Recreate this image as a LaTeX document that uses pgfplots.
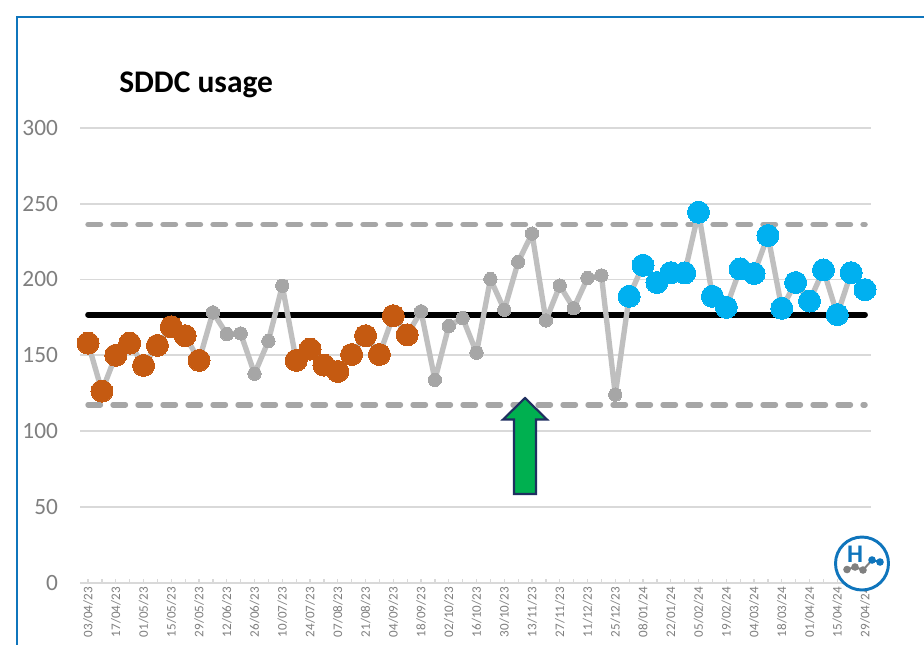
\documentclass[border=0pt]{standalone}
\usepackage{pgfplots}
\pgfplotsset{compat=1.18}
\usepackage{pgfplotstable}
\usepackage{fontspec}
\setmainfont{Carlito}
\definecolor{gridc}{HTML}{D9D9D9}
\definecolor{linec}{HTML}{BFBFBF}
\definecolor{dotc}{HTML}{A6A6A6}
\definecolor{orangec}{HTML}{C55A11}
\definecolor{bluec}{HTML}{00B0F0}
\definecolor{framec}{HTML}{0F75BC}
\definecolor{tickc}{HTML}{7F7F7F}
\pgfplotstableread{
i v
0 158
1 126.3
2 150
3 158
4 143.3
5 156.5
6 168.8
7 162.9
8 146.6
9 178.3
10 164
11 164.4
12 137.8
13 159.4
14 195.9
15 146.6
16 154.1
17 143.5
18 139.3
19 150.5
20 162.9
21 150.5
22 176.1
23 163.5
24 179
25 133.8
26 169.3
27 174.5
28 151.7
29 200.3
30 180
31 211.6
32 230.3
33 173
34 196
35 181
36 201
37 202.7
38 124
39 188.9
40 209.4
41 198
42 204.5
43 204.3
44 244.4
45 188.9
46 181.6
47 207
48 203.9
49 229
50 181
51 198
52 185.8
53 206.3
54 176.8
55 204.5
56 193.3
}\usage
\begin{document}
\begin{tikzpicture}[x=0.75pt,y=-0.75pt]
\useasboundingbox (0,0) rectangle (924,644);
\clip (0,0) rectangle (924,644);
\fill[white] (0,0) rectangle (924,644);
\draw[framec,line width=2.2pt] (17,660) -- (17,17) -- (940,17);
\node[anchor=base west,inner sep=0pt,font=\bfseries\fontsize{23.6}{26}\selectfont] at (119,92) {SDDC usage};
\begin{axis}[
  at={(80pt*0.75,-582.5pt*0.75)}, anchor=south west,
  scale only axis, width=593.25pt, height=340.9pt,
  xmin=-0.58, xmax=56.43, ymin=0, ymax=300,
  axis x line*=bottom, axis y line*=left,
  axis line style={gridc,line width=1.5pt,-},
  y axis line style={draw=none},
  ytick={0,50,...,300},
  ymajorgrids, grid style={gridc,line width=1.4pt},
  major tick length=0pt,
  yticklabel style={font=\fontsize{17.5}{20}\selectfont,text=tickc,xshift=-13pt},
  /pgf/number format/assume math mode=true,
  xtick={0,2,...,56},
  minor xtick={0,1,...,56},
  xticklabels={03/04/23,17/04/23,01/05/23,15/05/23,29/05/23,12/06/23,26/06/23,10/07/23,24/07/23,07/08/23,21/08/23,04/09/23,18/09/23,02/10/23,16/10/23,30/10/23,13/11/23,27/11/23,11/12/23,25/12/23,08/01/24,22/01/24,05/02/24,19/02/24,04/03/24,18/03/24,01/04/24,15/04/24,29/04/24},
  xticklabel style={rotate=90,anchor=east,font=\fontsize{9.8}{11}\selectfont,text=tickc},
  minor tick length=2.5pt,
  minor tick style={gridc,line width=0.9pt},
  clip=false,
  axis on top=false,
]
\addplot[black,line width=4.3pt,line cap=round] coordinates {(0,176.8) (56,176.8)};
\addplot[dotc,line width=4.1pt,line cap=round,dash pattern=on 9.3pt off 9.45pt] coordinates {(0,236.2) (56,236.2)};
\addplot[dotc,line width=4.1pt,line cap=round,dash pattern=on 9.3pt off 9.45pt] coordinates {(0,117.3) (56,117.3)};
\addplot[linec,line width=4pt,line join=round,mark=*,mark size=5pt,mark options={fill=dotc,draw=dotc,line width=0pt,solid}] table[x=i,y=v] {\usage};
\addplot[only marks,mark=*,mark size=8.25pt,mark options={fill=orangec,draw=orangec,line width=0pt}] table[x=i,y=v,restrict expr to domain={\thisrow{i}}{0:8}] {\usage};
\addplot[only marks,mark=*,mark size=8.25pt,mark options={fill=orangec,draw=orangec,line width=0pt}] table[x=i,y=v,restrict expr to domain={\thisrow{i}}{15:23}] {\usage};
\addplot[only marks,mark=*,mark size=8.25pt,mark options={fill=bluec,draw=bluec,line width=0pt}] table[x=i,y=v,restrict expr to domain={\thisrow{i}}{39:56}] {\usage};
\end{axis}
% arrow annotation
\draw[fill={rgb,255:red,0;green,176;blue,80},draw={rgb,255:red,31;green,47;blue,96},line width=1.6pt,line join=miter]
  (525,398) -- (547,419.5) -- (536,419.5) -- (536,494) -- (514,494) -- (514,419.5) -- (503,419.5) -- cycle;
% logo
\fill[white] (862,563.5) circle (27);
\draw[framec,line width=2.2pt] (862,563.5) circle (26.5);
\node[font=\bfseries\fontsize{19}{20}\selectfont,text=framec,inner sep=0pt] at (855,554) {H};
\draw[gray,line width=1.5pt] (847,569.5) -- (855,567) -- (863,570) -- (872,560);
\draw[framec,line width=1.5pt] (872,560) -- (880,562);
\fill[gray] (847,569.5) circle (3.8) (855,567) circle (3.8) (863,570) circle (3.8);
\fill[framec] (872,560) circle (3.8) (880,562) circle (3.8);
\end{tikzpicture}
\end{document}
